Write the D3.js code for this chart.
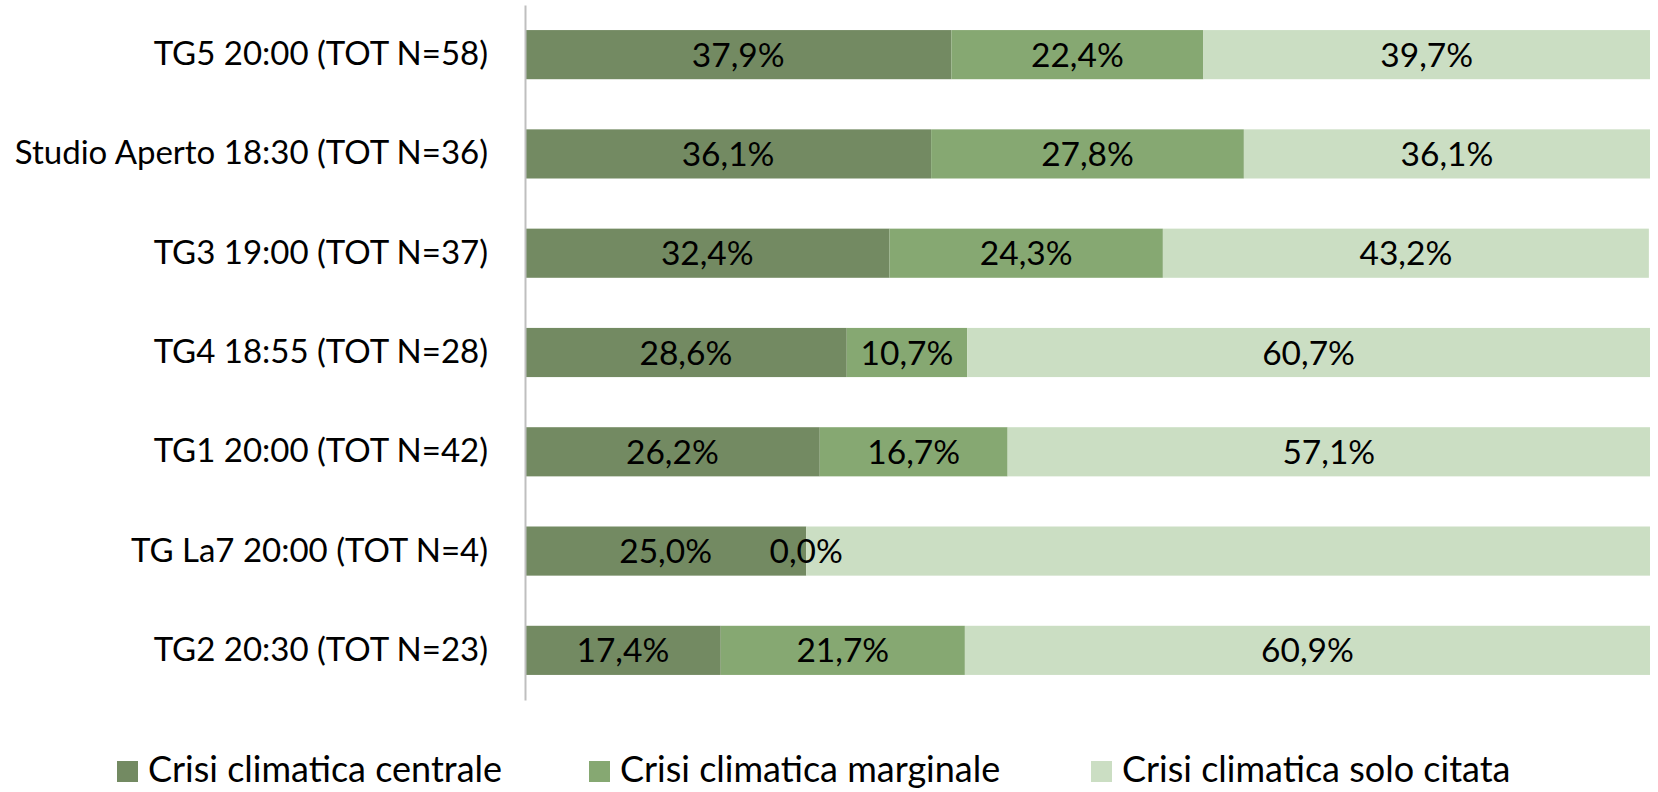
<!DOCTYPE html>
<html>
<head>
<meta charset="utf-8">
<script src="https://cdn.jsdelivr.net/npm/d3@7"></script>
<style>
  html, body { margin: 0; padding: 0; background: #fff; }
  svg { display: block; }
  text { font-family: Lato, "Noto Sans", sans-serif; fill: #000; }
</style>
</head>
<body>
<svg id="chart" width="1658" height="792"></svg>
<script>
const categories = [
  "TG5 20:00 (TOT N=58)",
  "Studio Aperto 18:30 (TOT N=36)",
  "TG3 19:00 (TOT N=37)",
  "TG4 18:55 (TOT N=28)",
  "TG1 20:00 (TOT N=42)",
  "TG La7 20:00 (TOT N=4)",
  "TG2 20:30 (TOT N=23)"
];
const seriesNames = ["Crisi climatica centrale", "Crisi climatica marginale", "Crisi climatica solo citata"];
const centrale  = [37.9, 36.1, 32.4, 28.6, 26.2, 25.0, 17.4];
const marginale = [22.4, 27.8, 24.3, 10.7, 16.7, 0.0, 21.7];
const citata    = [39.7, 36.1, 43.2, 60.7, 57.1, 75.0, 60.9];
// labels shown in the reference (TG La7 "solo citata" has no label)
const showCitataLabel = [true, true, true, true, true, false, true];
const colors = ["#738A62", "#86A872", "#CBDEC3"];

const svg = d3.select("#chart");
const x = d3.scaleLinear().domain([0, 100]).range([525, 1650]);
const y = d3.scaleBand().domain(categories).range([5, 700]).paddingInner(0.505).paddingOuter(0.2525);

const rows = categories.map((c, i) => ({ cat: c, centrale: centrale[i], marginale: marginale[i], citata: citata[i] }));
const stack = d3.stack().keys(["centrale", "marginale", "citata"]);
const stacked = stack(rows);

const tickSize = 33, labelSize = 33.5, legendSize = 36;
const g = svg.append("g");
stacked.forEach((layer, si) => {
  g.selectAll(null).data(layer).enter().append("rect")
    .attr("x", d => x(d[0]))
    .attr("y", d => y(d.data.cat))
    .attr("width", d => x(d[1]) - x(d[0]))
    .attr("height", y.bandwidth())
    .attr("fill", colors[si]);
});
stacked.forEach((layer, si) => {
  g.selectAll(null).data(layer.filter((d, i) => si !== 2 || showCitataLabel[i])).enter().append("text")
    .attr("x", d => (x(d[0]) + x(d[1])) / 2)
    .attr("y", d => y(d.data.cat) + y.bandwidth() / 2)
    .attr("dy", "0.36em")
    .attr("text-anchor", "middle")
    .style("font-size", labelSize + "px")
    .text(d => (d[1] - d[0]).toFixed(1).replace(".", ",") + "%");
});

// category axis
const yAxis = d3.axisLeft(y).tickSize(0).tickPadding(37);
const ax = svg.append("g").attr("transform", "translate(525,0)").call(yAxis);
ax.select(".domain").attr("stroke", "#BFBFBF").attr("stroke-width", 2);
ax.selectAll("text").style("font-size", tickSize + "px").style("font-family", "Lato, 'Noto Sans', sans-serif").attr("fill", "#000");

// legend
const legendX = [117, 589, 1091];
const leg = svg.append("g");
seriesNames.forEach((n, i) => {
  leg.append("rect").attr("x", legendX[i]).attr("y", 761).attr("width", 21).attr("height", 21).attr("fill", colors[i]);
  leg.append("text").attr("x", legendX[i] + 31).attr("y", 782)
    .style("font-size", legendSize + "px").text(n);
});
</script>
</body>
</html>
